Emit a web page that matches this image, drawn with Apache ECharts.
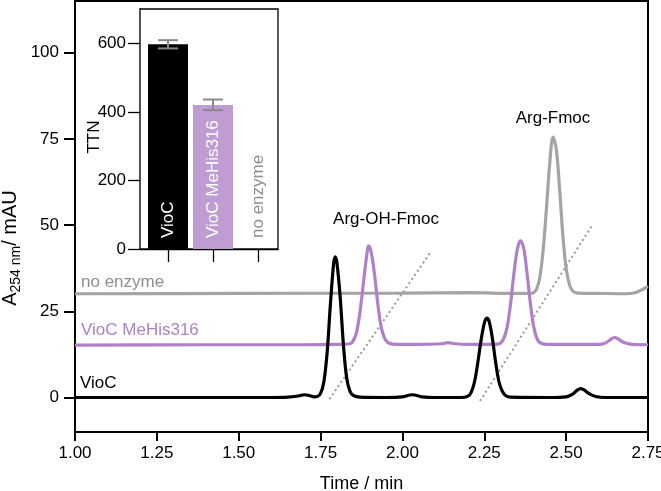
<!DOCTYPE html>
<html>
<head>
<meta charset="utf-8">
<script src="https://cdn.jsdelivr.net/npm/echarts@6/dist/echarts.min.js"></script>
<style>
  html, body { margin: 0; padding: 0; background: #fff; }
  #chart { width: 661px; height: 491px; }
</style>
</head>
<body>
<div id="chart"></div>
<script>
// ---- Chromatogram data (Time / min, A254 / mAU) ----
var vioTime = [1.00, 1.20, 1.40, 1.60, 1.65, 1.685, 1.70, 1.715, 1.73, 1.74, 1.75, 1.76, 1.77, 1.78, 1.79, 1.795, 1.80, 1.81, 1.82, 1.83, 1.84, 1.85, 1.87, 1.95, 2.00, 2.03, 2.06, 2.10, 2.18, 2.20, 2.21, 2.22, 2.23, 2.24, 2.25, 2.258, 2.265, 2.275, 2.285, 2.295, 2.305, 2.315, 2.33, 2.45, 2.50, 2.52, 2.535, 2.545, 2.555, 2.57, 2.59, 2.62, 2.75];
var vioAbs  = [0.0, 0.0, 0.0, 0.0, 0.1, 0.5, 0.8, 0.6, 0.2, 0.3, 1.2, 4.5, 13.0, 27.0, 39.0, 40.8, 39.0, 29.0, 15.0, 5.5, 1.8, 0.6, 0.1, 0.0, 0.2, 0.8, 0.2, 0.0, 0.0, 0.4, 1.5, 4.5, 10.0, 16.5, 21.5, 23.0, 22.0, 17.0, 10.0, 4.5, 1.8, 0.6, 0.1, 0.0, 0.2, 1.0, 2.2, 2.6, 2.2, 1.1, 0.3, 0.0, 0.0];

var mehisTime = [1.00, 1.40, 1.70, 1.80, 1.84, 1.85, 1.86, 1.87, 1.88, 1.89, 1.897, 1.905, 1.915, 1.925, 1.935, 1.945, 1.955, 1.97, 2.05, 2.12, 2.14, 2.16, 2.20, 2.29, 2.30, 2.31, 2.32, 2.33, 2.34, 2.35, 2.36, 2.37, 2.38, 2.39, 2.40, 2.41, 2.42, 2.44, 2.60, 2.62, 2.635, 2.648, 2.66, 2.675, 2.70, 2.75];
var mehisAbs  = [15.2, 15.3, 15.3, 15.4, 15.6, 16.5, 19.0, 24.5, 32.5, 40.5, 44.0, 42.0, 35.5, 27.0, 20.5, 17.3, 16.0, 15.5, 15.4, 15.6, 15.9, 15.6, 15.4, 15.5, 15.8, 17.2, 20.5, 27.0, 35.5, 42.5, 45.5, 43.5, 36.5, 28.0, 21.0, 17.3, 15.9, 15.4, 15.4, 15.8, 16.8, 17.4, 16.9, 16.0, 15.4, 15.3];

var noEnzTime = [1.00, 1.50, 2.00, 2.20, 2.35, 2.39, 2.40, 2.41, 2.42, 2.43, 2.44, 2.45, 2.46, 2.47, 2.48, 2.49, 2.50, 2.51, 2.52, 2.535, 2.60, 2.68, 2.71, 2.73, 2.75];
var noEnzAbs  = [30.1, 30.2, 30.3, 30.4, 30.2, 30.2, 30.4, 31.5, 35.0, 43.0, 55.0, 68.0, 75.5, 72.0, 60.5, 47.0, 37.5, 32.8, 30.9, 30.3, 30.2, 30.1, 30.4, 31.2, 32.2];

// dotted guide lines (two end points each)
var guide1Time = [1.777, 2.085];
var guide1Abs  = [-0.5, 42.0];
var guide2Time = [2.237, 2.582];
var guide2Abs  = [-1.0, 50.3];

// axis ticks
var xTicks = [1.00, 1.25, 1.50, 1.75, 2.00, 2.25, 2.50, 2.75];
var yTicks = [0, 25, 50, 75, 100];

// ---- Inset: TTN bar chart ----
var ttnCategories = ['VioC', 'VioC MeHis316', 'no enzyme'];
var ttnPos   = [1, 2, 3];
var ttnValues = [597, 420, 0];
var ttnLow   = [585, 405, null];
var ttnHigh  = [609, 436, null];
var ttnTicks = [0, 200, 400, 600];

var FONT = "'Liberation Sans', Arial, Helvetica, sans-serif";
var PURPLE_LINE = '#b07fc9';
var PURPLE_BAR = '#bf9dd3';
var GRAY_LINE = '#a4a4a4';
var GRAY_TEXT = '#8e8e8e';

function zip(a, b) { return a.map(function (v, i) { return [v, b[i]]; }); }

var barColors = ['#000000', PURPLE_BAR, 'rgba(0,0,0,0)'];
var barLabelColors = ['#ffffff', '#ffffff', GRAY_TEXT];
var barData = ttnPos.map(function (p, i) {
  return {
    value: [p, ttnValues[i]],
    name: ttnCategories[i],
    itemStyle: { color: barColors[i] },
    label: { color: barLabelColors[i] }
  };
});
var errData = [];
ttnPos.forEach(function (p, i) {
  if (ttnLow[i] != null) errData.push([p, ttnLow[i], ttnHigh[i]]);
});

var chart = echarts.init(document.getElementById('chart'), null, { renderer: 'canvas' });

var option = {
  backgroundColor: '#ffffff',
  animation: false,
  textStyle: { fontFamily: FONT },
  grid: [
    { left: 75, right: 13, top: 1, bottom: 59, show: true, borderColor: '#000', borderWidth: 2,
      backgroundColor: 'transparent', containLabel: false, outerBoundsMode: 'none' },
    { left: 140, top: 9, width: 138, height: 240, show: true, borderColor: '#000', borderWidth: 1.3,
      backgroundColor: '#fff', z: 10, containLabel: false, outerBoundsMode: 'none' }
  ],
  xAxis: [
    {
      gridIndex: 0, type: 'value', min: 1, max: 2.75, interval: 0.25,
      splitLine: { show: false },
      axisLine: { show: true, onZero: false, lineStyle: { color: '#000', width: 2 } },
      axisTick: { show: true, length: 9, lineStyle: { color: '#000', width: 2 } },
      axisLabel: { color: '#000', fontSize: 17, fontFamily: FONT, margin: 13,
        formatter: function (v) { return v.toFixed(2); } },
      name: 'Time / min', nameLocation: 'middle', nameGap: 43, nameMoveOverlap: false,
      nameTextStyle: { color: '#000', fontSize: 18, fontFamily: FONT }
    },
    {
      gridIndex: 1, type: 'value', min: 0.378, max: 3.444,
      splitLine: { show: false },
      axisLine: { show: true, onZero: false, lineStyle: { color: '#000', width: 1.3 } },
      axisTick: { show: true, length: 13, customValues: ttnPos, lineStyle: { color: '#000', width: 1.3 } },
      axisLabel: { show: false }
    }
  ],
  yAxis: [
    {
      gridIndex: 0, type: 'value', min: -10, max: 115,
      splitLine: { show: false },
      axisLine: { show: true, onZero: false, lineStyle: { color: '#000', width: 2 } },
      axisTick: { show: true, length: 11, customValues: yTicks, lineStyle: { color: '#000', width: 2 } },
      axisLabel: { color: '#000', fontSize: 17, fontFamily: FONT, margin: 16, customValues: yTicks }
    },
    {
      gridIndex: 1, type: 'value', min: 0, max: 700,
      splitLine: { show: false },
      axisLine: { show: true, onZero: false, lineStyle: { color: '#000', width: 1.3 } },
      axisTick: { show: true, length: 12, customValues: ttnTicks, lineStyle: { color: '#000', width: 1.3 } },
      axisLabel: { color: '#000', fontSize: 17, fontFamily: FONT, margin: 14, customValues: ttnTicks },
      name: 'TTN', nameLocation: 'middle', nameRotate: 90, nameGap: 37, nameMoveOverlap: false,
      nameTextStyle: { color: '#000', fontSize: 17, fontFamily: FONT, padding: [0, 16, 0, 0] }
    }
  ],
  series: [
    {
      type: 'line', xAxisIndex: 0, yAxisIndex: 0, data: zip(guide1Time, guide1Abs),
      showSymbol: false, silent: true, z: 1,
      lineStyle: { color: '#9a9a9a', width: 2, type: [2, 3] }
    },
    {
      type: 'line', xAxisIndex: 0, yAxisIndex: 0, data: zip(guide2Time, guide2Abs),
      showSymbol: false, silent: true, z: 1,
      lineStyle: { color: '#9a9a9a', width: 2, type: [2, 3] }
    },
    {
      name: 'no enzyme', type: 'line', xAxisIndex: 0, yAxisIndex: 0, data: zip(noEnzTime, noEnzAbs),
      showSymbol: false, smooth: 0.35, z: 2,
      lineStyle: { color: GRAY_LINE, width: 3.2 }
    },
    {
      name: 'VioC MeHis316', type: 'line', xAxisIndex: 0, yAxisIndex: 0, data: zip(mehisTime, mehisAbs),
      showSymbol: false, smooth: 0.35, z: 3,
      lineStyle: { color: PURPLE_LINE, width: 3.2 }
    },
    {
      name: 'VioC', type: 'line', xAxisIndex: 0, yAxisIndex: 0, data: zip(vioTime, vioAbs),
      showSymbol: false, smooth: 0.35, z: 4,
      lineStyle: { color: '#000', width: 3.2 }
    },
    {
      type: 'bar', xAxisIndex: 1, yAxisIndex: 1, data: barData, barWidth: 40, z: 11,
      label: {
        show: true, position: 'insideBottom', rotate: 90, align: 'left', verticalAlign: 'middle',
        distance: 11, fontSize: 17, fontFamily: FONT,
        formatter: function (p) { return p.name; }
      }
    },
    {
      type: 'custom', xAxisIndex: 1, yAxisIndex: 1, data: errData, z: 12,
      renderItem: function (params, api) {
        var x = api.value(0);
        var pLo = api.coord([x, api.value(1)]);
        var pHi = api.coord([x, api.value(2)]);
        var hw = 10;
        var st = { stroke: '#8a8a8a', lineWidth: 2 };
        return {
          type: 'group', children: [
            { type: 'line', shape: { x1: pLo[0], y1: pLo[1], x2: pHi[0], y2: pHi[1] }, style: st },
            { type: 'line', shape: { x1: pLo[0] - hw, y1: pLo[1], x2: pLo[0] + hw, y2: pLo[1] }, style: st },
            { type: 'line', shape: { x1: pHi[0] - hw, y1: pHi[1], x2: pHi[0] + hw, y2: pHi[1] }, style: st }
          ]
        };
      }
    }
  ],
  graphic: [
    {
      type: 'text', x: 10, y: 248, rotation: Math.PI / 2, z: 20,
      style: {
        text: '{a|A}{s|254 nm}{a|/ mAU}',
        align: 'center', verticalAlign: 'middle',
        rich: {
          a: { fontSize: 20, fontFamily: FONT, fill: '#000', lineHeight: 26, verticalAlign: 'middle' },
          s: { fontSize: 14, fontFamily: FONT, fill: '#000', lineHeight: 26, verticalAlign: 'bottom' }
        }
      }
    },
    { type: 'text', x: 81, y: 282, z: 20, style: { text: 'no enzyme', fill: GRAY_TEXT, fontSize: 17, fontFamily: FONT, verticalAlign: 'middle' } },
    { type: 'text', x: 81, y: 330, z: 20, style: { text: 'VioC MeHis316', fill: PURPLE_LINE, fontSize: 17, fontFamily: FONT, verticalAlign: 'middle' } },
    { type: 'text', x: 80, y: 383, z: 20, style: { text: 'VioC', fill: '#000', fontSize: 17, fontFamily: FONT, verticalAlign: 'middle' } },
    { type: 'text', x: 386, y: 219, z: 20, style: { text: 'Arg-OH-Fmoc', fill: '#000', fontSize: 17, fontFamily: FONT, align: 'center', verticalAlign: 'middle' } },
    { type: 'text', x: 553, y: 118, z: 20, style: { text: 'Arg-Fmoc', fill: '#000', fontSize: 17, fontFamily: FONT, align: 'center', verticalAlign: 'middle' } }
  ]
};

chart.setOption(option);
</script>
</body>
</html>
